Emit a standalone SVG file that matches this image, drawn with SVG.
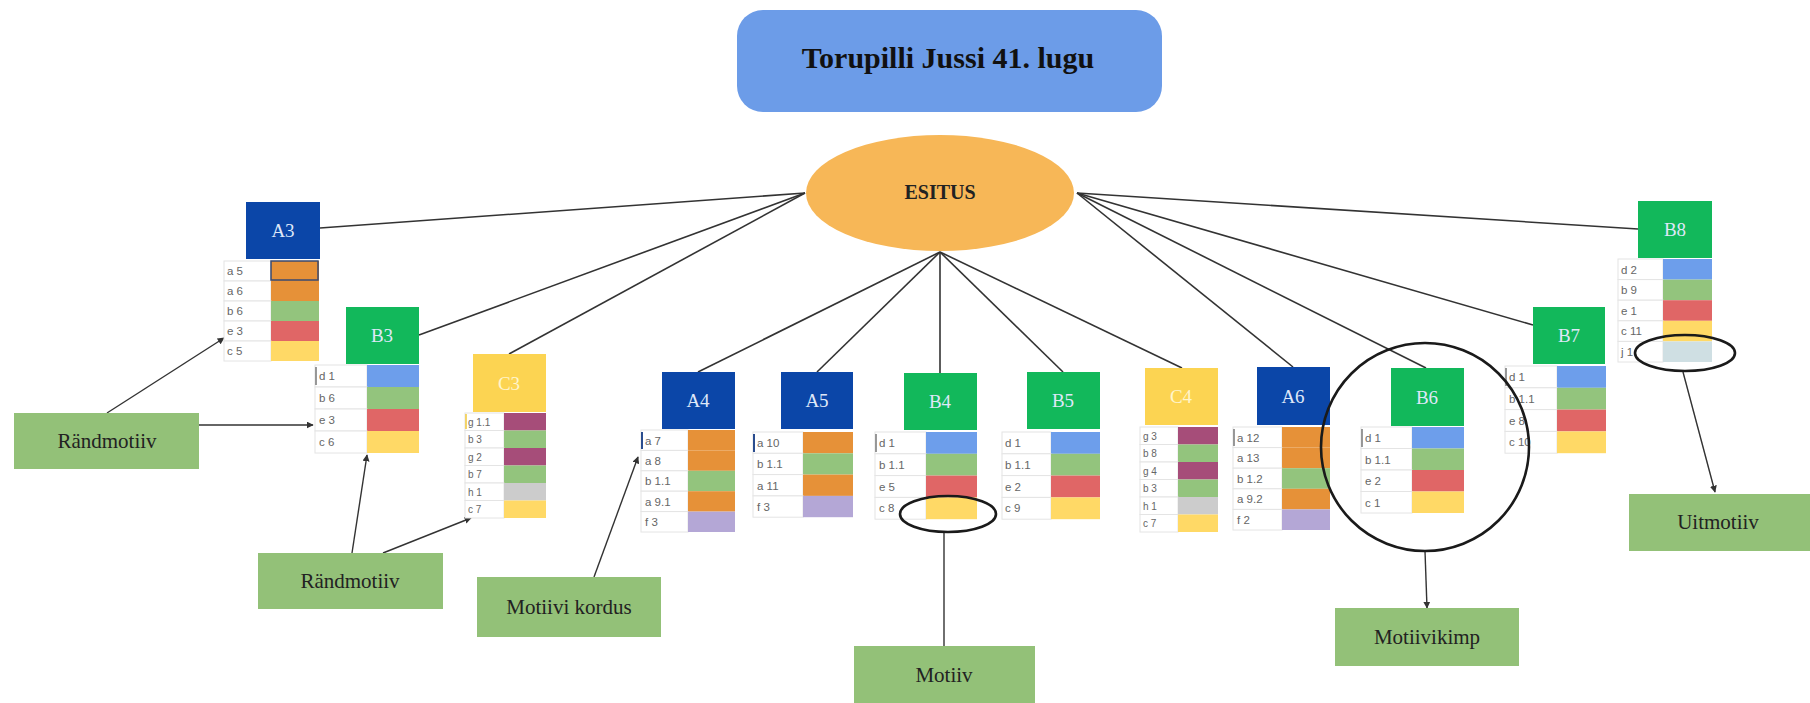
<svg xmlns="http://www.w3.org/2000/svg" width="1810" height="703" viewBox="0 0 1810 703">
<style>
.bg{fill:#ffffff}
.title{fill:#6c9ce8}
.ttl{font-family:"Liberation Serif",serif;font-weight:bold;font-size:30px;fill:#111;text-anchor:middle}
.oval{fill:#f7b757}
.otx{font-family:"Liberation Serif",serif;font-weight:bold;font-size:20px;fill:#222;text-anchor:middle}
.A{fill:#0b46a8}
.B{fill:#12b85b}
.C{fill:#fcd452}
.bt{font-family:"Liberation Serif",serif;font-size:19px;fill:#dfe8f8;text-anchor:middle}
.ct{font-family:"Liberation Serif",serif;font-size:19px;fill:#fff5cc;text-anchor:middle}
.lc{fill:#ffffff;stroke:#e4e4e4;stroke-width:1}
.rl{font-family:"Liberation Sans",sans-serif;font-size:11.5px;fill:#666}
.rs{font-family:"Liberation Sans",sans-serif;font-size:10px;fill:#666}
.or{fill:#e69138}.gr{fill:#93c47d}.re{fill:#e06666}.ye{fill:#ffd966}.bl{fill:#6d9eeb}.mg{fill:#a64d79}.gy{fill:#cccccc}.pu{fill:#b4a7d6}.cy{fill:#cfdfe3}
.con{stroke:#333;stroke-width:1.6;fill:none}
.ann{stroke:#333;stroke-width:1.4;fill:none}
.hl{stroke:#1a1a1a;stroke-width:2.6;fill:none}
.lab{fill:#93c178}
.lt{font-family:"Liberation Serif",serif;font-size:21px;fill:#222;text-anchor:middle}
.cur{stroke:#777;stroke-width:1.5}
</style>
<defs>
<marker id="arr" viewBox="0 0 10 10" refX="9" refY="5" markerWidth="5" markerHeight="5" orient="auto">
<path d="M0,0 L10,5 L0,10 z" fill="#333"/>
</marker>
</defs>
<rect class="bg" x="0" y="0" width="1810" height="703"/>

<g id="connectors">
<line class="con" x1="805" y1="193" x2="320" y2="228"/>
<line class="con" x1="805" y1="193" x2="419" y2="335"/>
<line class="con" x1="805" y1="193" x2="509" y2="354"/>
<line class="con" x1="940" y1="252" x2="698" y2="372"/>
<line class="con" x1="940" y1="252" x2="817" y2="372"/>
<line class="con" x1="940" y1="252" x2="940" y2="373"/>
<line class="con" x1="940" y1="252" x2="1063" y2="372"/>
<line class="con" x1="940" y1="252" x2="1182" y2="368"/>
<line class="con" x1="1077" y1="193" x2="1293" y2="367"/>
<line class="con" x1="1077" y1="193" x2="1426" y2="368"/>
<line class="con" x1="1077" y1="193" x2="1533" y2="325"/>
<line class="con" x1="1077" y1="193" x2="1638" y2="229"/>
<line class="ann" x1="107" y1="413" x2="224" y2="338" marker-end="url(#arr)"/>
<line class="ann" x1="199" y1="425" x2="313" y2="425" marker-end="url(#arr)"/>
<line class="ann" x1="352" y1="553" x2="367" y2="455" marker-end="url(#arr)"/>
<line class="ann" x1="383" y1="553" x2="471" y2="518" marker-end="url(#arr)"/>
<line class="ann" x1="594" y1="577" x2="638" y2="457" marker-end="url(#arr)"/>
<line class="ann" x1="944" y1="532" x2="944" y2="646"/>
<line class="ann" x1="1425" y1="551" x2="1427" y2="608" marker-end="url(#arr)"/>
<line class="ann" x1="1683" y1="372" x2="1715" y2="492" marker-end="url(#arr)"/>
</g>

<g id="title">
<rect class="title" x="737" y="10" width="425" height="102" rx="26"/>
<text class="ttl" x="948" y="68">Torupilli Jussi 41. lugu</text>
</g>

<g id="esitus">
<ellipse class="oval" cx="940" cy="193" rx="134" ry="58"/>
<text class="otx" x="940" y="199">ESITUS</text>
</g>

<g id="A3">
<rect class="A" x="246" y="202" width="74" height="57"/>
<text class="bt" x="283" y="237">A3</text>
<rect class="lc" x="224" y="261" width="47" height="20"/><rect class="or" x="271" y="261" width="48" height="20"/><text class="rl" x="227" y="275">a 5</text>
<rect class="lc" x="224" y="281" width="47" height="20"/><rect class="or" x="271" y="281" width="48" height="20"/><text class="rl" x="227" y="295">a 6</text>
<rect class="lc" x="224" y="301" width="47" height="20"/><rect class="gr" x="271" y="301" width="48" height="20"/><text class="rl" x="227" y="315">b 6</text>
<rect class="lc" x="224" y="321" width="47" height="20"/><rect class="re" x="271" y="321" width="48" height="20"/><text class="rl" x="227" y="335">e 3</text>
<rect class="lc" x="224" y="341" width="47" height="20"/><rect class="ye" x="271" y="341" width="48" height="20"/><text class="rl" x="227" y="355">c 5</text>
<rect x="271" y="261" width="47" height="19" fill="none" stroke="#3a4a70" stroke-width="1.5"/>
</g>

<g id="B3">
<rect class="B" x="346" y="307" width="73" height="57"/>
<text class="bt" x="382" y="342">B3</text>
<rect class="lc" x="315" y="365" width="52" height="22"/><rect class="bl" x="367" y="365" width="52" height="22"/><text class="rl" x="319" y="380">d 1</text>
<rect class="lc" x="315" y="387" width="52" height="22"/><rect class="gr" x="367" y="387" width="52" height="22"/><text class="rl" x="319" y="402">b 6</text>
<rect class="lc" x="315" y="409" width="52" height="22"/><rect class="re" x="367" y="409" width="52" height="22"/><text class="rl" x="319" y="424">e 3</text>
<rect class="lc" x="315" y="431" width="52" height="22"/><rect class="ye" x="367" y="431" width="52" height="22"/><text class="rl" x="319" y="446">c 6</text>
<line class="cur" x1="316" y1="367" x2="316" y2="385"/>
</g>

<g id="C3">
<rect class="C" x="473" y="354" width="73" height="58"/>
<text class="ct" x="509" y="390">C3</text>
<rect class="lc" x="465" y="413" width="39" height="17.5"/><rect class="mg" x="504" y="413" width="42" height="17.5"/><text class="rs" x="468" y="425.5">g 1.1</text>
<rect class="lc" x="465" y="430.5" width="39" height="17.5"/><rect class="gr" x="504" y="430.5" width="42" height="17.5"/><text class="rs" x="468" y="443">b 3</text>
<rect class="lc" x="465" y="448" width="39" height="17.5"/><rect class="mg" x="504" y="448" width="42" height="17.5"/><text class="rs" x="468" y="460.5">g 2</text>
<rect class="lc" x="465" y="465.5" width="39" height="17.5"/><rect class="gr" x="504" y="465.5" width="42" height="17.5"/><text class="rs" x="468" y="478">b 7</text>
<rect class="lc" x="465" y="483" width="39" height="17.5"/><rect class="gy" x="504" y="483" width="42" height="17.5"/><text class="rs" x="468" y="495.5">h 1</text>
<rect class="lc" x="465" y="500.5" width="39" height="17.5"/><rect class="ye" x="504" y="500.5" width="42" height="17.5"/><text class="rs" x="468" y="513">c 7</text>
<line x1="466" y1="414" x2="466" y2="429" stroke="#f2c93a" stroke-width="1.5"/>
</g>

<g id="A4">
<rect class="A" x="662" y="372" width="73" height="57"/>
<text class="bt" x="698" y="407">A4</text>
<rect class="lc" x="641" y="430" width="47" height="20.4"/><rect class="or" x="688" y="430" width="47" height="20.4"/><text class="rl" x="645" y="444.5">a 7</text>
<rect class="lc" x="641" y="450.4" width="47" height="20.4"/><rect class="or" x="688" y="450.4" width="47" height="20.4"/><text class="rl" x="645" y="465">a 8</text>
<rect class="lc" x="641" y="470.8" width="47" height="20.4"/><rect class="gr" x="688" y="470.8" width="47" height="20.4"/><text class="rl" x="645" y="485.4">b 1.1</text>
<rect class="lc" x="641" y="491.2" width="47" height="20.4"/><rect class="or" x="688" y="491.2" width="47" height="20.4"/><text class="rl" x="645" y="505.8">a 9.1</text>
<rect class="lc" x="641" y="511.6" width="47" height="20.4"/><rect class="pu" x="688" y="511.6" width="47" height="20.4"/><text class="rl" x="645" y="526.2">f 3</text>
<line x1="642" y1="432" x2="642" y2="449" stroke="#2a4d8f" stroke-width="2"/>
</g>

<g id="A5">
<rect class="A" x="781" y="372" width="72" height="57"/>
<text class="bt" x="817" y="407">A5</text>
<rect class="lc" x="753" y="432" width="50" height="21.3"/><rect class="or" x="803" y="432" width="50" height="21.3"/><text class="rl" x="757" y="447">a 10</text>
<rect class="lc" x="753" y="453.3" width="50" height="21.3"/><rect class="gr" x="803" y="453.3" width="50" height="21.3"/><text class="rl" x="757" y="468.3">b 1.1</text>
<rect class="lc" x="753" y="474.6" width="50" height="21.3"/><rect class="or" x="803" y="474.6" width="50" height="21.3"/><text class="rl" x="757" y="489.6">a 11</text>
<rect class="lc" x="753" y="495.9" width="50" height="21.3"/><rect class="pu" x="803" y="495.9" width="50" height="21.3"/><text class="rl" x="757" y="510.9">f 3</text>
<line x1="754" y1="434" x2="754" y2="452" stroke="#2a4d8f" stroke-width="2"/>
</g>

<g id="B4">
<rect class="B" x="904" y="373" width="73" height="57"/>
<text class="bt" x="940" y="408">B4</text>
<rect class="lc" x="875" y="432" width="51" height="21.8"/><rect class="bl" x="926" y="432" width="51" height="21.8"/><text class="rl" x="879" y="447">d 1</text>
<rect class="lc" x="875" y="453.8" width="51" height="21.8"/><rect class="gr" x="926" y="453.8" width="51" height="21.8"/><text class="rl" x="879" y="468.8">b 1.1</text>
<rect class="lc" x="875" y="475.6" width="51" height="21.8"/><rect class="re" x="926" y="475.6" width="51" height="21.8"/><text class="rl" x="879" y="490.6">e 5</text>
<rect class="lc" x="875" y="497.4" width="51" height="21.8"/><rect class="ye" x="926" y="497.4" width="51" height="21.8"/><text class="rl" x="879" y="512.4">c 8</text>
<line class="cur" x1="876" y1="434" x2="876" y2="452"/>
</g>

<g id="B5">
<rect class="B" x="1027" y="372" width="73" height="57"/>
<text class="bt" x="1063" y="407">B5</text>
<rect class="lc" x="1002" y="432" width="49" height="21.8"/><rect class="bl" x="1051" y="432" width="49" height="21.8"/><text class="rl" x="1005" y="447">d 1</text>
<rect class="lc" x="1002" y="453.8" width="49" height="21.8"/><rect class="gr" x="1051" y="453.8" width="49" height="21.8"/><text class="rl" x="1005" y="468.8">b 1.1</text>
<rect class="lc" x="1002" y="475.6" width="49" height="21.8"/><rect class="re" x="1051" y="475.6" width="49" height="21.8"/><text class="rl" x="1005" y="490.6">e 2</text>
<rect class="lc" x="1002" y="497.4" width="49" height="21.8"/><rect class="ye" x="1051" y="497.4" width="49" height="21.8"/><text class="rl" x="1005" y="512.4">c 9</text>
</g>

<g id="C4">
<rect class="C" x="1145" y="368" width="73" height="57"/>
<text class="ct" x="1181" y="403">C4</text>
<rect class="lc" x="1140" y="427" width="38" height="17.5"/><rect class="mg" x="1178" y="427" width="40" height="17.5"/><text class="rs" x="1143" y="439.5">g 3</text>
<rect class="lc" x="1140" y="444.5" width="38" height="17.5"/><rect class="gr" x="1178" y="444.5" width="40" height="17.5"/><text class="rs" x="1143" y="457">b 8</text>
<rect class="lc" x="1140" y="462" width="38" height="17.5"/><rect class="mg" x="1178" y="462" width="40" height="17.5"/><text class="rs" x="1143" y="474.5">g 4</text>
<rect class="lc" x="1140" y="479.5" width="38" height="17.5"/><rect class="gr" x="1178" y="479.5" width="40" height="17.5"/><text class="rs" x="1143" y="492">b 3</text>
<rect class="lc" x="1140" y="497" width="38" height="17.5"/><rect class="gy" x="1178" y="497" width="40" height="17.5"/><text class="rs" x="1143" y="509.5">h 1</text>
<rect class="lc" x="1140" y="514.5" width="38" height="17.5"/><rect class="ye" x="1178" y="514.5" width="40" height="17.5"/><text class="rs" x="1143" y="527">c 7</text>
</g>

<g id="A6">
<rect class="A" x="1257" y="367" width="73" height="58"/>
<text class="bt" x="1293" y="403">A6</text>
<rect class="lc" x="1233" y="427" width="49" height="20.6"/><rect class="or" x="1282" y="427" width="48" height="20.6"/><text class="rl" x="1237" y="441.5">a 12</text>
<rect class="lc" x="1233" y="447.6" width="49" height="20.6"/><rect class="or" x="1282" y="447.6" width="48" height="20.6"/><text class="rl" x="1237" y="462">a 13</text>
<rect class="lc" x="1233" y="468.2" width="49" height="20.6"/><rect class="gr" x="1282" y="468.2" width="48" height="20.6"/><text class="rl" x="1237" y="482.7">b 1.2</text>
<rect class="lc" x="1233" y="488.8" width="49" height="20.6"/><rect class="or" x="1282" y="488.8" width="48" height="20.6"/><text class="rl" x="1237" y="503.3">a 9.2</text>
<rect class="lc" x="1233" y="509.4" width="49" height="20.6"/><rect class="pu" x="1282" y="509.4" width="48" height="20.6"/><text class="rl" x="1237" y="523.9">f 2</text>
<line class="cur" x1="1234" y1="429" x2="1234" y2="446"/>
</g>

<g id="B6">
<rect class="B" x="1391" y="368" width="73" height="58"/>
<text class="bt" x="1427" y="404">B6</text>
<rect class="lc" x="1361" y="427" width="51" height="21.5"/><rect class="bl" x="1412" y="427" width="52" height="21.5"/><text class="rl" x="1365" y="442">d 1</text>
<rect class="lc" x="1361" y="448.5" width="51" height="21.5"/><rect class="gr" x="1412" y="448.5" width="52" height="21.5"/><text class="rl" x="1365" y="463.5">b 1.1</text>
<rect class="lc" x="1361" y="470" width="51" height="21.5"/><rect class="re" x="1412" y="470" width="52" height="21.5"/><text class="rl" x="1365" y="485">e 2</text>
<rect class="lc" x="1361" y="491.5" width="51" height="21.5"/><rect class="ye" x="1412" y="491.5" width="52" height="21.5"/><text class="rl" x="1365" y="506.5">c 1</text>
<line class="cur" x1="1362" y1="429" x2="1362" y2="447"/>
</g>

<g id="B7">
<rect class="B" x="1533" y="307" width="72" height="57"/>
<text class="bt" x="1569" y="342">B7</text>
<rect class="lc" x="1505" y="366" width="52" height="21.8"/><rect class="bl" x="1557" y="366" width="49" height="21.8"/><text class="rl" x="1509" y="381">d 1</text>
<rect class="lc" x="1505" y="387.8" width="52" height="21.8"/><rect class="gr" x="1557" y="387.8" width="49" height="21.8"/><text class="rl" x="1509" y="402.8">b 1.1</text>
<rect class="lc" x="1505" y="409.6" width="52" height="21.8"/><rect class="re" x="1557" y="409.6" width="49" height="21.8"/><text class="rl" x="1509" y="424.6">e 8</text>
<rect class="lc" x="1505" y="431.4" width="52" height="21.8"/><rect class="ye" x="1557" y="431.4" width="49" height="21.8"/><text class="rl" x="1509" y="446.4">c 10</text>
<line class="cur" x1="1506" y1="368" x2="1506" y2="386"/>
</g>

<g id="B8">
<rect class="B" x="1638" y="201" width="74" height="57"/>
<text class="bt" x="1675" y="236">B8</text>
<rect class="lc" x="1618" y="259" width="45" height="20.6"/><rect class="bl" x="1663" y="259" width="49" height="20.6"/><text class="rl" x="1621" y="273.5">d 2</text>
<rect class="lc" x="1618" y="279.6" width="45" height="20.6"/><rect class="gr" x="1663" y="279.6" width="49" height="20.6"/><text class="rl" x="1621" y="294">b 9</text>
<rect class="lc" x="1618" y="300.2" width="45" height="20.6"/><rect class="re" x="1663" y="300.2" width="49" height="20.6"/><text class="rl" x="1621" y="314.7">e 1</text>
<rect class="lc" x="1618" y="320.8" width="45" height="20.6"/><rect class="ye" x="1663" y="320.8" width="49" height="20.6"/><text class="rl" x="1621" y="335.3">c 11</text>
<rect class="lc" x="1618" y="341.4" width="45" height="20.6"/><rect class="cy" x="1663" y="341.4" width="49" height="20.6"/><text class="rl" x="1621" y="355.9">j 1</text>
</g>

<g id="highlights">
<ellipse class="hl" cx="948" cy="514" rx="48" ry="18"/>
<circle class="hl" cx="1425" cy="447" r="104"/>
<ellipse class="hl" cx="1685" cy="353" rx="50" ry="18"/>
</g>

<g id="lbl-randmotiiv1">
<rect class="lab" x="14" y="413" width="185" height="56"/>
<text class="lt" x="107" y="448">Rändmotiiv</text>
</g>
<g id="lbl-randmotiiv2">
<rect class="lab" x="258" y="553" width="185" height="56"/>
<text class="lt" x="350" y="588">Rändmotiiv</text>
</g>
<g id="lbl-motiivi-kordus">
<rect class="lab" x="477" y="577" width="184" height="60"/>
<text class="lt" x="569" y="614">Motiivi kordus</text>
</g>
<g id="lbl-motiiv">
<rect class="lab" x="854" y="646" width="181" height="57"/>
<text class="lt" x="944" y="682">Motiiv</text>
</g>
<g id="lbl-motiivikimp">
<rect class="lab" x="1335" y="608" width="184" height="58"/>
<text class="lt" x="1427" y="644">Motiivikimp</text>
</g>
<g id="lbl-uitmotiiv">
<rect class="lab" x="1629" y="494" width="181" height="57"/>
<text class="lt" x="1718" y="529">Uitmotiiv</text>
</g>
</svg>
